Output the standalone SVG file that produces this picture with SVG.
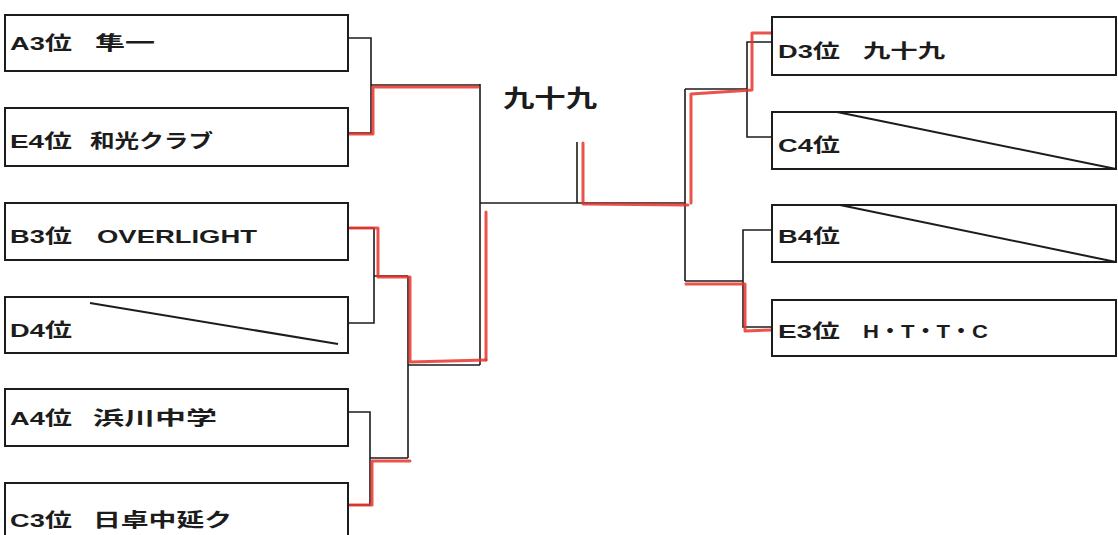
<svg xmlns="http://www.w3.org/2000/svg" width="1118" height="535" viewBox="0 0 1118 535">
<style>
.box{fill:#fff;stroke:#1c1c1c;stroke-width:2}
.slash{stroke:#1c1c1c;stroke-width:2;fill:none}
.ln{fill:none;stroke:#1c1c1c;stroke-width:1.6}
.red{fill:none;stroke:#e8342c;stroke-width:3;stroke-opacity:0.85;stroke-linejoin:round;stroke-linecap:round}
text{font-family:"Liberation Sans","Noto Sans CJK JP",sans-serif;font-weight:bold;font-size:19px;fill:#1c1c1c}
.win{font-size:24px}
</style>
<rect width="1118" height="535" fill="#fff"/>
<g id="connectors">
<path class="ln" d="M348,38H371V133H348M371,85H480"/>
<path class="ln" d="M348,228H374V323H348M374,276H408"/>
<path class="ln" d="M348,412H370V505H348M370,458H408"/>
<path class="ln" d="M408,276V458M408,365H480"/>
<path class="ln" d="M480,84V365M480,203H685M577,142V203"/>
<path class="ln" d="M685,89V281M685,89H747M772,42H747V137H772"/>
<path class="ln" d="M685,281H743M772,230H743V327H772"/>
<path class="red" d="M349,134H373V87H478"/>
<path class="red" d="M350,228H378V277H410V362L486,360"/>
<path class="red" d="M486,360V212"/>
<path class="red" d="M349,505H372V461H410"/>
<path class="red" d="M583,143V204L688,205"/>
<path class="red" d="M691,203V94L752,90V33H772"/>
<path class="red" d="M686,284H745V331L772,330"/>
</g>
<g id="n-a3"><rect class="box" x="5" y="15" width="343" height="56"/><text x="10" y="50" textLength="62" lengthAdjust="spacingAndGlyphs">A3位</text><text x="95" y="50" textLength="60" lengthAdjust="spacingAndGlyphs">隼一</text></g>
<g id="n-e4"><rect class="box" x="5" y="108" width="343" height="58"/><text x="10" y="148" textLength="62" lengthAdjust="spacingAndGlyphs">E4位</text><text x="90" y="148" textLength="123" lengthAdjust="spacingAndGlyphs">和光クラブ</text></g>
<g id="n-b3"><rect class="box" x="5" y="203" width="343" height="57"/><text x="10" y="243" textLength="62" lengthAdjust="spacingAndGlyphs">B3位</text><text x="97" y="243" textLength="160" lengthAdjust="spacingAndGlyphs">OVERLIGHT</text></g>
<g id="n-d4"><rect class="box" x="5" y="297" width="343" height="56"/><text x="10" y="337" textLength="62" lengthAdjust="spacingAndGlyphs">D4位</text><line class="slash" x1="90" y1="303" x2="338" y2="344"/></g>
<g id="n-a4"><rect class="box" x="5" y="389" width="343" height="57"/><text x="10" y="425" textLength="62" lengthAdjust="spacingAndGlyphs">A4位</text><text x="93" y="425" textLength="124" lengthAdjust="spacingAndGlyphs">浜川中学</text></g>
<g id="n-c3"><rect class="box" x="5" y="483" width="343" height="70"/><text x="10" y="527" textLength="62" lengthAdjust="spacingAndGlyphs">C3位</text><text x="93" y="527" textLength="139" lengthAdjust="spacingAndGlyphs">日卓中延ク</text></g>
<g id="winner"><text class="win" x="503" y="107" textLength="94" lengthAdjust="spacingAndGlyphs">九十九</text></g>
<g id="n-d3"><rect class="box" x="772" y="17" width="344" height="58"/><text x="778" y="58" textLength="62" lengthAdjust="spacingAndGlyphs">D3位</text><text x="863" y="58" textLength="82" lengthAdjust="spacingAndGlyphs">九十九</text></g>
<g id="n-c4"><rect class="box" x="772" y="112" width="344" height="57"/><text x="778" y="152" textLength="62" lengthAdjust="spacingAndGlyphs">C4位</text><line class="slash" x1="837" y1="112" x2="1116" y2="169"/></g>
<g id="n-b4"><rect class="box" x="772" y="205" width="344" height="57"/><text x="778" y="243" textLength="62" lengthAdjust="spacingAndGlyphs">B4位</text><line class="slash" x1="840" y1="205" x2="1116" y2="262"/></g>
<g id="n-e3"><rect class="box" x="772" y="300" width="344" height="56"/><text x="778" y="338" textLength="62" lengthAdjust="spacingAndGlyphs">E3位</text><text x="863" y="338" textLength="125" lengthAdjust="spacingAndGlyphs">H・T・T・C</text></g>
</svg>
